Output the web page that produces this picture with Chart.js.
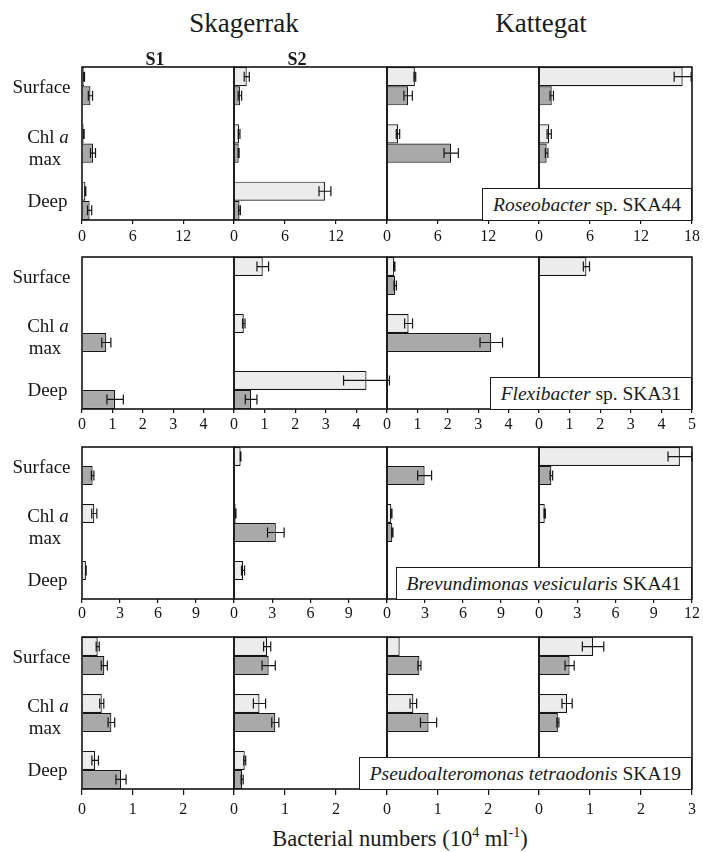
<!DOCTYPE html>
<html>
<head>
<meta charset="utf-8">
<script src="https://cdn.jsdelivr.net/npm/chart.js@4.4.0/dist/chart.umd.min.js"></script>
<style>
  html, body { margin: 0; padding: 0; background: #fff; }
  #wrap { position: relative; width: 703px; height: 852px; overflow: hidden; font-family: "Liberation Serif", "Times New Roman", serif; color: #1a1a1a; }
  canvas { position: absolute; }
  .txt { position: absolute; white-space: nowrap; line-height: 1; }
  .box { position: absolute; box-sizing: border-box; border: 1.5px solid #1a1a1a; background: #fff; height: 33px; padding: 0 10px; font-size: 19.5px; display: flex; align-items: center; white-space: nowrap; z-index: 5; }
</style>
</head>
<body>
<div id="wrap"></div>
<script>
// ---------------- DATA ----------------
const regions = ['Skagerrak', 'Kattegat'];
const stations = ['S1', 'S2', '', ''];
const depths = ['Surface', 'Chl a max', 'Deep'];
const organismItalic = ['Roseobacter', 'Flexibacter', 'Brevundimonas vesicularis', 'Pseudoalteromonas tetraodonis'];
const organismPlain = ['sp. SKA44', 'sp. SKA31', 'SKA41', 'SKA19'];
const axisMax = [18, 5, 12, 3];
const axisStep = [6, 1, 3, 1];
const xTitle = 'Bacterial numbers';

// values per station panel [S1, S2, K1, K2], each [Surface, Chl a max, Deep]
// light bars (upper bar of each pair) and dark bars (lower bar)
const roseoLight    = [[0.25, 0.2, 0.4], [1.5, 0.6, 10.7], [3.3, 1.3, 0], [16.9, 1.2, 0]];
const roseoLightErr = [[0.05, 0.05, 0.05], [0.3, 0.1, 0.7], [0.1, 0.2, 0], [1.0, 0.25, 0]];
const roseoDark     = [[1.0, 1.3, 0.9], [0.7, 0.55, 0.65], [2.5, 7.6, 0], [1.5, 0.9, 0]];
const roseoDarkErr  = [[0.25, 0.3, 0.25], [0.2, 0.05, 0.1], [0.5, 0.85, 0], [0.2, 0.15, 0]];

const flexiLight    = [[0, 0, 0], [0.94, 0.32, 4.33], [0.24, 0.71, 0], [1.55, 0, 0]];
const flexiLightErr = [[0, 0, 0], [0.19, 0.04, 0.75], [0.02, 0.13, 0], [0.1, 0, 0]];
const flexiDark     = [[0, 0.8, 1.09], [0, 0, 0.56], [0.27, 3.43, 0], [0, 0, 0]];
const flexiDarkErr  = [[0, 0.15, 0.27], [0, 0, 0.19], [0.04, 0.37, 0], [0, 0, 0]];

const brevuLight    = [[0, 0.97, 0.31], [0.52, 0.13, 0.71], [0, 0.34, 0], [11.05, 0.45, 0]];
const brevuLightErr = [[0, 0.2, 0.02], [0.02, 0.02, 0.12], [0, 0.05, 0], [0.93, 0.05, 0]];
const brevuDark     = [[0.84, 0, 0], [0, 3.28, 0], [2.97, 0.42, 0], [0.97, 0, 0]];
const brevuDarkErr  = [[0.1, 0, 0], [0, 0.65, 0], [0.55, 0.05, 0], [0.1, 0, 0]];

const pseudoLight    = [[0.31, 0.39, 0.26], [0.65, 0.5, 0.21], [0.25, 0.52, 0], [1.06, 0.55, 0]];
const pseudoLightErr = [[0.03, 0.04, 0.065], [0.07, 0.12, 0.02], [0, 0.065, 0], [0.21, 0.1, 0]];
const pseudoDark     = [[0.44, 0.58, 0.77], [0.68, 0.81, 0.16], [0.64, 0.82, 0], [0.6, 0.37, 0]];
const pseudoDarkErr  = [[0.06, 0.065, 0.1], [0.13, 0.07, 0.02], [0.03, 0.16, 0], [0.09, 0.02, 0]];

const lightVals = [roseoLight, flexiLight, brevuLight, pseudoLight];
const lightErrs = [roseoLightErr, flexiLightErr, brevuLightErr, pseudoLightErr];
const darkVals  = [roseoDark, flexiDark, brevuDark, pseudoDark];
const darkErrs  = [roseoDarkErr, flexiDarkErr, brevuDarkErr, pseudoDarkErr];

// ---------------- LAYOUT ----------------
const INK = '#151515';
const LIGHT = '#ececec';
const DARK = '#a9a9a9';
const SERIF = '"Liberation Serif", "Times New Roman", serif';
const panelLeft = [82, 234, 387, 539, 692];
const rowTop = [67, 257, 447, 637];
const rowBottom = [220, 409, 599, 789];
const tickLen = [4, 4, 4, 6];
const tickPad = [3, 2, 1, 5];
const PAD_T = 3, AXIS_H = 32, PAD_L = 10, PAD_R = 12;

const wrap = document.getElementById('wrap');

function addText(html, left, top, size, extra) {
  const d = document.createElement('div');
  d.className = 'txt';
  d.innerHTML = html;
  d.style.left = left + 'px';
  d.style.top = top + 'px';
  d.style.fontSize = size + 'px';
  if (extra) Object.assign(d.style, extra);
  wrap.appendChild(d);
  return d;
}

// ---------------- PLUGINS ----------------
const errorBars = {
  id: 'errorBars',
  afterDatasetsDraw(chart) {
    const ctx = chart.ctx, xs = chart.scales.x;
    ctx.save();
    ctx.strokeStyle = INK;
    ctx.lineWidth = 1.2;
    chart.data.datasets.forEach((ds, di) => {
      const meta = chart.getDatasetMeta(di);
      meta.data.forEach((bar, i) => {
        const e = ds.errors[i];
        if (!e) return;
        const v = ds.data[i].x;
        const x1 = xs.getPixelForValue(v - e), x2 = xs.getPixelForValue(v + e);
        const y = bar.y, h = 5;
        ctx.beginPath();
        ctx.moveTo(x1, y); ctx.lineTo(x2, y);
        ctx.moveTo(x1, y - h); ctx.lineTo(x1, y + h);
        ctx.moveTo(x2, y - h); ctx.lineTo(x2, y + h);
        ctx.stroke();
      });
    });
    ctx.restore();
  }
};

const frame = {
  id: 'frame',
  afterDraw(chart) {
    const { ctx, chartArea: a } = chart;
    ctx.save();
    ctx.strokeStyle = INK;
    ctx.lineWidth = 1.6;
    ctx.strokeRect(a.left, a.top, a.right - a.left, a.bottom - a.top);
    ctx.restore();
  }
};

const depthLabels = {
  id: 'depthLabels',
  afterDraw(chart) {
    const ctx = chart.ctx, ys = chart.scales.y;
    ctx.save();
    ctx.fillStyle = INK;
    ctx.textBaseline = 'alphabetic';
    const normal = '19px ' + SERIF;
    const ital = 'italic 19px ' + SERIF;
    function centered(txt, cx, y) {
      ctx.font = normal; ctx.textAlign = 'center'; ctx.fillText(txt, cx, y);
    }
    const c0 = ys.getPixelForValue(0), c1 = ys.getPixelForValue(1), c2 = ys.getPixelForValue(2);
    centered(depths[0], 41.5, c0 + 6.5);
    // "Chl a" with italic a, then "max" on the next line
    const parts = depths[1].split(' ');
    ctx.font = normal; const w1 = ctx.measureText(parts[0] + ' ').width;
    ctx.font = ital; const w2 = ctx.measureText(parts[1]).width;
    const sx = 48 - (w1 + w2) / 2;
    ctx.textAlign = 'left';
    ctx.font = normal; ctx.fillText(parts[0] + ' ', sx, c1 - 1);
    ctx.font = ital; ctx.fillText(parts[1], sx + w1, c1 - 1);
    centered(parts[2], 45, c1 + 21);
    centered(depths[2], 47.5, c2 + 6.5);
    ctx.restore();
  }
};

// ---------------- CHARTS ----------------
for (let r = 0; r < 4; r++) {
  for (let c = 0; c < 4; c++) {
    const padL = c === 0 ? panelLeft[0] : PAD_L;
    const w = panelLeft[c + 1] - panelLeft[c];
    const cw = padL + w + PAD_R;
    const ch = PAD_T + (rowBottom[r] - rowTop[r]) + AXIS_H;
    const cv = document.createElement('canvas');
    cv.width = cw; cv.height = ch;
    cv.style.width = cw + 'px'; cv.style.height = ch + 'px';
    cv.style.left = (panelLeft[c] - padL) + 'px';
    cv.style.top = (rowTop[r] - PAD_T) + 'px';
    wrap.appendChild(cv);

    const mk = (vals, errs, color) => ({
      data: vals.map((v, i) => ({ x: v, y: i })),
      errors: errs,
      backgroundColor: color,
      borderColor: INK,
      borderWidth: 1.2,
      borderSkipped: 'start',
      categoryPercentage: 0.668,
      barPercentage: 1.0
    });

    const isLastCol = c === 3;
    const plugins = [errorBars, frame];
    if (c === 0) plugins.push(depthLabels);

    new Chart(cv, {
      type: 'bar',
      data: {
        datasets: [
          mk(lightVals[r][c], lightErrs[r][c], LIGHT),
          mk(darkVals[r][c], darkErrs[r][c], DARK)
        ]
      },
      options: {
        indexAxis: 'y',
        responsive: false,
        animation: false,
        devicePixelRatio: 1,
        layout: { padding: { left: padL, right: PAD_R, top: PAD_T, bottom: 0 } },
        plugins: { legend: { display: false }, tooltip: { enabled: false } },
        scales: {
          y: {
            type: 'linear', min: -0.335, max: 2.335, reverse: true, display: false,
            offset: false, grid: { offset: false },
            afterBuildTicks: (s) => { s.ticks = depths.map((d, i) => ({ value: i })); }
          },
          x: {
            type: 'linear', min: 0, max: axisMax[r],
            afterFit: (s) => { s.height = AXIS_H; },
            grid: { display: true, drawOnChartArea: false, drawTicks: true, tickLength: tickLen[r], color: INK, lineWidth: 1.2 },
            border: { display: false },
            ticks: {
              stepSize: axisStep[r], autoSkip: false, maxRotation: 0, minRotation: 0,
              padding: tickPad[r], color: INK,
              font: { family: SERIF, size: 16 },
              callback: (val, idx, ticks) => (!isLastCol && idx === ticks.length - 1) ? '' : String(val)
            }
          }
        }
      },
      plugins
    });
  }
  // organism legend box
  const b = document.createElement('div');
  b.className = 'box';
  b.innerHTML = '<i>' + organismItalic[r] + '</i>&nbsp;' + organismPlain[r];
  b.style.right = (703 - panelLeft[4]) + 'px';
  b.style.top = (rowBottom[r] - 32) + 'px';
  wrap.appendChild(b);
}

// ---------------- TITLES ----------------
addText(regions[0], 244, 10, 27, { transform: 'translateX(-50%)' });
addText(regions[1], 541, 10, 27, { transform: 'translateX(-50%)' });
addText(stations[0], 155, 50, 18, { transform: 'translateX(-50%)', fontWeight: 'bold' });
addText(stations[1], 297, 50, 18, { transform: 'translateX(-50%)', fontWeight: 'bold' });
addText(xTitle + ' (10<sup style="font-size:14px;vertical-align:9px">4</sup> ml<sup style="font-size:14px;vertical-align:9px">-1</sup>)', 400, 826, 22.5, { transform: 'translateX(-50%)' });
</script>
</body>
</html>
